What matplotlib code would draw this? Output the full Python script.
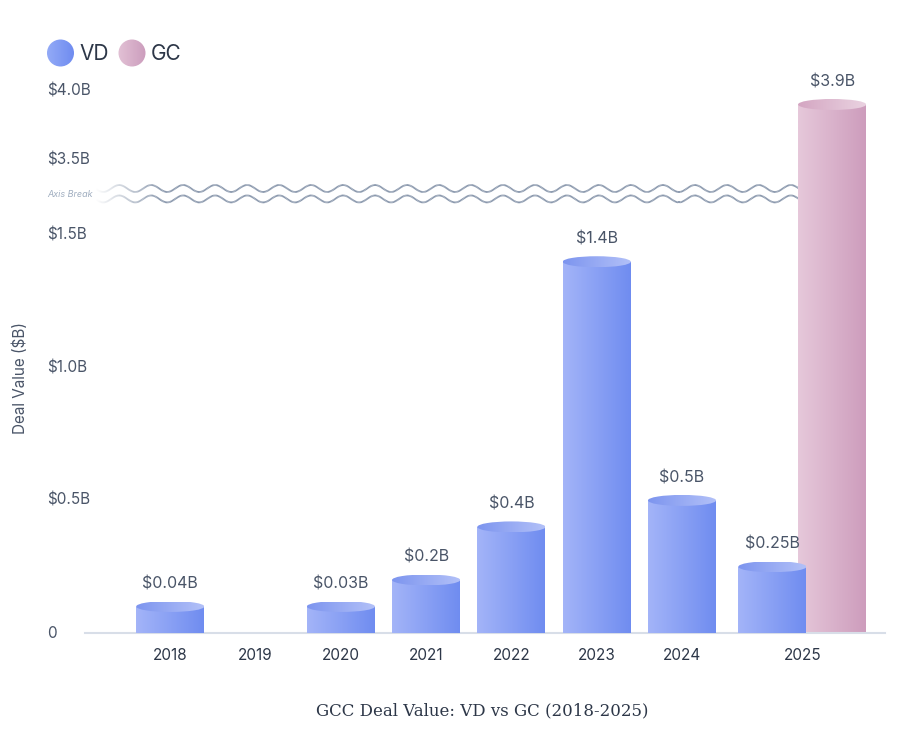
import numpy as np
import matplotlib
matplotlib.use("Agg")
import matplotlib.pyplot as plt
from matplotlib.colors import LinearSegmentedColormap
from matplotlib.patches import Ellipse, Circle
from matplotlib.collections import LineCollection
import matplotlib.transforms as mtransforms

plt.rcParams['font.family'] = ['Inter', 'DejaVu Sans']

# 数据
years = ['2018', '2019', '2020', '2021', '2022', '2023', '2024', '2025']
vd_values = [0.04, 0, 0.03, 0.2, 0.4, 1.4, 0.5, 0.25]
gc_values = [0, 0, 0, 0, 0, 0, 0, 3.9]
ytick_values = [0, 0.5, 1.0, 1.5, 3.5, 4.0]
ytick_labels = ['0', '$0.5B', '$1.0B', '$1.5B', '$3.5B', '$4.0B']

# 样式
BAR_W = 0.8
GROUP_OFF = 0.35     # 2025 两根柱子的偏移
GROUP_GAP = 0.41     # 2025 组额外间距
MIN_VISIBLE = 0.1    # 极小值的最小显示高度
TEXT = '#2d3748'
MUTED = '#4a5568'
VD_BODY = ('#a3b4f8', '#6f8cf0')
VD_TOP = ('#7d95ef', '#b3c1f8')
GC_BODY = ('#e6c8da', '#cd9cbc')
GC_TOP = ('#d4a6c2', '#ead3e1')

# 断轴：分段线性刻度
B1, B2 = 1.6, 3.3
F_B2 = 1.681
UPPER_SLOPE = 0.52


def forward(v):
    v = np.asarray(v, dtype=float)
    return np.where(v <= B1, v,
                    np.where(v <= B2, B1 + (v - B1) * (F_B2 - B1) / (B2 - B1),
                             F_B2 + (v - B2) * UPPER_SLOPE))


def inverse(f):
    f = np.asarray(f, dtype=float)
    return np.where(f <= B1, f,
                    np.where(f <= F_B2, B1 + (f - B1) * (B2 - B1) / (F_B2 - B1),
                             B2 + (f - F_B2) / UPPER_SLOPE))


fig = plt.figure(figsize=(9, 7.49), dpi=100)
ax = fig.add_axes([85 / 900, 116 / 749, 800 / 900, 563 / 749])
ax.set_yscale('function', functions=(forward, inverse))
ax.set_xlim(-1.0, 8.38)
ax.set_ylim(0, 4.15)
ax.set_autoscale_on(False)
ax.patch.set_visible(False)
for s in ['top', 'right', 'left']:
    ax.spines[s].set_visible(False)
ax.spines['bottom'].set_color('#d8dee8')
ax.spines['bottom'].set_linewidth(1.5)
ax.set_yticks([])

n = len(years)
pos = np.arange(n, dtype=float)
pos[-1] += GROUP_GAP


def grad(ax, x0, x1, y0, y1, colors, zorder, clip=None):
    cmap = LinearSegmentedColormap.from_list('g', list(colors))
    im = ax.imshow(np.linspace(0, 1, 256).reshape(1, -1), cmap=cmap,
                   extent=[x0, x1, y0, y1], aspect='auto', origin='lower',
                   interpolation='bilinear', zorder=zorder)
    if clip is not None:
        im.set_clip_path(clip)
    return im


def cylinder(x, val, body, top, zorder):
    h = max(val, MIN_VISIBLE)
    x0, x1 = x - BAR_W / 2, x + BAR_W / 2
    grad(ax, x0, x1, 0, h, body, zorder)
    # 顶部椭圆，高度约 11 像素
    dy = ax.transData.transform((x, h))[1]
    inv = ax.transData.inverted()
    y_lo = inv.transform((0, dy - 5.5))[1]
    y_hi = inv.transform((0, dy + 5.5))[1]
    ell = Ellipse((x, h), BAR_W, y_hi - y_lo, transform=ax.transData)
    grad(ax, x0, x1, y_lo, y_hi, top, zorder + 0.1, clip=ell)
    ax.annotate(f'${val:g}B', (x, h), xytext=(0, 11), textcoords='offset points',
                ha='center', va='bottom', fontsize=11.5, color=MUTED, zorder=5)


for i in range(n):
    if gc_values[i] > 0:
        x = pos[i] + GROUP_OFF if vd_values[i] > 0 else pos[i]
        cylinder(x, gc_values[i], GC_BODY, GC_TOP, 2)
    if vd_values[i] > 0:
        x = pos[i] - GROUP_OFF if gc_values[i] > 0 else pos[i]
        cylinder(x, vd_values[i], VD_BODY, VD_TOP, 3)

# x 轴刻度
ax.set_xticks(pos)
ax.set_xticklabels(years, fontsize=11, color=TEXT)
ax.tick_params(axis='x', length=0, pad=11)

# y 轴刻度文字
ytrans = mtransforms.blended_transform_factory(fig.transFigure, ax.transData)
for v, lab in zip(ytick_values, ytick_labels):
    ax.text(47 / 900, v, lab, transform=ytrans, ha='left', va='center',
            fontsize=11, color=MUTED, clip_on=False)

# 断轴波浪线
gc_idx = n - 1
wave_end = pos[gc_idx] + GROUP_OFF - BAR_W / 2 + 0.05
wtrans = mtransforms.blended_transform_factory(ax.transData, ax.transAxes)
xs = np.linspace(-0.88, wave_end, 600)
fade = np.clip((xs + 0.88) / 0.75, 0, 1)
for yc in [0.7895, 0.771]:
    ys = yc + 0.0062 * np.sin(2 * np.pi * (xs + 0.88) / 0.375 + np.pi)
    pts = np.column_stack([xs, ys]).reshape(-1, 1, 2)
    segs = np.concatenate([pts[:-1], pts[1:]], axis=1)
    cols = np.zeros((len(segs), 4))
    cols[:, :3] = matplotlib.colors.to_rgb('#8a98ad')
    cols[:, 3] = fade[:-1]
    lc = LineCollection(segs, colors=cols, linewidths=1.3, transform=wtrans, zorder=1)
    ax.add_collection(lc)
ax.text(47 / 900, 0.778, 'Axis Break',
        transform=mtransforms.blended_transform_factory(fig.transFigure, ax.transAxes),
        fontsize=6.5, style='italic', color='#a0aec0', ha='left', va='center')

# y 轴标题
fig.text(20 / 900, 1 - 378 / 749, 'Deal Value ($B)', rotation=90, ha='center',
         va='center', fontsize=11, color=MUTED)

# 图例（渐变圆点）
lax = fig.add_axes([0, 0, 1, 1], zorder=-1)
lax.set_xlim(0, 900)
lax.set_ylim(749, 0)
lax.axis('off')
for cx, colors, label in [(60.5, ('#93aaf7', '#6e8bf0'), 'VD'),
                          (132, ('#e2c1d5', '#cc9dbd'), 'GC')]:
    c = Circle((cx, 53), 13.5, transform=lax.transData)
    cmap = LinearSegmentedColormap.from_list('l', list(colors))
    im = lax.imshow(np.linspace(0, 1, 64).reshape(1, -1), cmap=cmap,
                    extent=[cx - 14, cx + 14, 67, 39], aspect='auto')
    im.set_clip_path(c)
    lax.text(cx + 19, 54, label, fontsize=15, color=TEXT, ha='left', va='center')
lax.set_xlim(0, 900)
lax.set_ylim(749, 0)

# 标题
fig.text(482 / 900, 1 - 711 / 749, 'GCC Deal Value: VD vs GC (2018-2025)',
         family=['DejaVu Serif'], fontsize=12, color=TEXT, ha='center', va='center')

fig.savefig('out.png', dpi=100, facecolor='white')
